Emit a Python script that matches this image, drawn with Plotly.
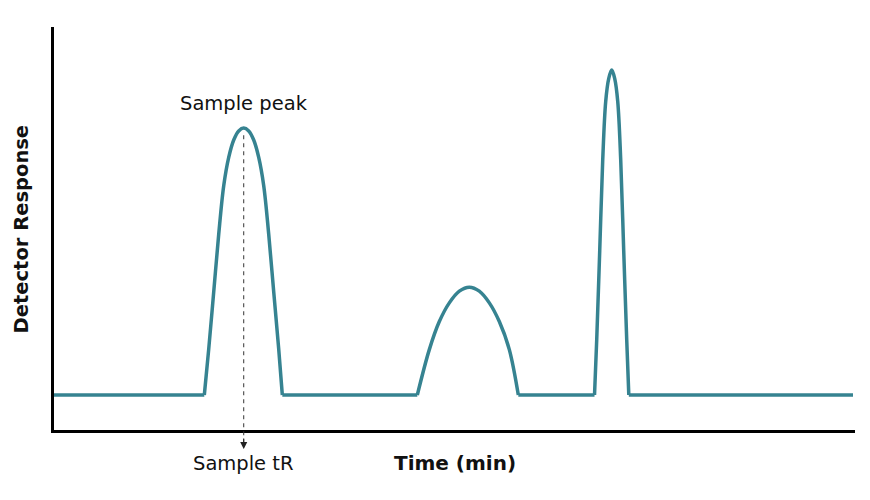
import plotly.graph_objects as go

# ---- data (time in min, detector response in arbitrary units, baseline = 0) ----
baseline_t = [0.0, 3.758, 5.708, 9.083, 11.608, 13.513, 14.37, 19.975]
baseline_r = [0, 0, 0, 0, 0, 0, 0, 0]

peak1_t = [3.758, 3.868, 3.993, 4.118, 4.243, 4.368, 4.493, 4.618, 4.743,
           4.868, 4.993, 5.118, 5.243, 5.368, 5.493, 5.618, 5.708]
peak1_r = [0, 17.2, 38.6, 60.2, 78.4, 89.0, 95.5, 98.9, 100.0,
           98.9, 95.5, 89.0, 78.4, 60.2, 38.6, 17.2, 0]

peak2_t = [9.083, 9.383, 9.633, 9.883, 10.133, 10.383,
           10.633, 10.883, 11.133, 11.383, 11.608]
peak2_r = [0, 17.0, 27.5, 34.5, 38.9, 40.4,
           38.9, 34.5, 27.5, 17.0, 0]

peak3_t = [13.513, 13.568, 13.643, 13.718, 13.793, 13.868, 13.943,
           14.018, 14.093, 14.168, 14.243, 14.318, 14.370]
peak3_r = [0, 20.7, 54.0, 88.0, 110.0, 118.5, 121.7,
           118.5, 110.0, 88.0, 54.0, 20.7, 0]

sample_tR = 4.743
sample_peak = 100.0

x_range = [0, 20.025]
y_range = [-13.11, 137.83]

teal = "#368391"
font_family = "DejaVu Sans, Verdana, sans-serif"

fig = go.Figure()

# baseline segments (straight)
for i in range(0, len(baseline_t), 2):
    fig.add_trace(go.Scatter(x=baseline_t[i:i + 2], y=baseline_r[i:i + 2], mode="lines",
                             line=dict(color=teal, width=3.5), hoverinfo="skip"))

for pt, pr in [(peak1_t, peak1_r), (peak2_t, peak2_r), (peak3_t, peak3_r)]:
    fig.add_trace(go.Scatter(x=pt, y=pr, mode="lines",
                             line=dict(color=teal, width=3.5, shape="spline", smoothing=1.0),
                             hoverinfo="skip"))

def to_paper_y(v):
    return (v - y_range[0]) / (y_range[1] - y_range[0])

# dashed retention-time marker
fig.add_shape(type="line", xref="x", yref="paper",
              x0=sample_tR, x1=sample_tR,
              y0=to_paper_y(sample_peak) - 0.018, y1=-0.035,
              line=dict(color="#333333", width=1, dash="4px,4px"))
fig.add_annotation(x=sample_tR, y=-0.047, xref="x", yref="paper",
                   ax=0, ay=-12, showarrow=True, arrowhead=2, arrowsize=1.4,
                   arrowwidth=1, arrowcolor="#222222", text="")

txt = dict(showarrow=False, xanchor="center", yanchor="middle")
fig.add_annotation(x=sample_tR, y=0.811, xref="x", yref="paper", text="Sample peak",
                   font=dict(size=19.5, color="#111111", family=font_family), **txt)
fig.add_annotation(x=sample_tR, y=-0.082, xref="x", yref="paper", text="Sample tR",
                   font=dict(size=19.5, color="#111111", family=font_family), **txt)
fig.add_annotation(x=0.5, y=-0.082, xref="paper", yref="paper", text="<b>Time (min)</b>",
                   font=dict(size=20, color="#111111", family=font_family), **txt)
fig.add_annotation(x=-0.04, y=0.5, xref="paper", yref="paper", text="<b>Detector Response</b>",
                   textangle=-90,
                   font=dict(size=19.5, color="#111111", family=font_family), **txt)

fig.update_layout(
    width=870, height=500,
    margin=dict(l=54, r=15, t=27, b=70),
    paper_bgcolor="white", plot_bgcolor="white",
    showlegend=False,
    xaxis=dict(range=x_range, showgrid=False, zeroline=False, showticklabels=False,
               ticks="", showline=True, linecolor="black", linewidth=3),
    yaxis=dict(range=y_range, showgrid=False, zeroline=False, showticklabels=False,
               ticks="", showline=True, linecolor="black", linewidth=3),
)

fig.write_html("out.html")
